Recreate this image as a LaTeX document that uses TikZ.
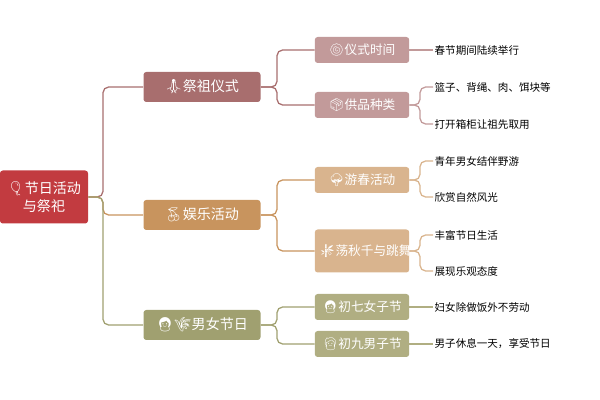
\documentclass[tikz,border=0pt]{standalone}
\usepackage{fontspec}
\setmainfont{Noto Sans CJK SC}
\newfontfamily\emo{Noto Emoji}
\usetikzlibrary{positioning}
\definecolor{rootred}{HTML}{C23B40}
\definecolor{redA}{HTML}{A86E6E}
\definecolor{redB}{HTML}{C29A9A}
\definecolor{brownA}{HTML}{C8945E}
\definecolor{brownB}{HTML}{D9B48E}
\definecolor{greenA}{HTML}{A0A070}
\definecolor{greenB}{HTML}{B0AE82}
\tikzset{
  rootbox/.style={fill=rootred, text=white, rounded corners=2pt, minimum width=88*0.025cm, minimum height=53*0.025cm, align=center, font=\fontsize{10}{13}\selectfont},
  mainbox/.style={fill=#1, text=white, rounded corners=2pt, minimum width=117*0.025cm, minimum height=30*0.025cm, font=\fontsize{10}{12}\selectfont},
  subbox/.style={fill=#1, text=white, rounded corners=2pt, text width=85*0.025cm, align=center, minimum height=26*0.025cm, font=\fontsize{9}{12}\selectfont},
  leaf/.style={anchor=west, font=\fontsize{7.5}{9}\selectfont, inner sep=1pt},
  link/.style={draw=#1, line width=0.9pt, rounded corners=4pt}
}
\begin{document}
\begin{tikzpicture}[x=0.025cm,y=-0.025cm]
\useasboundingbox (0,0) rectangle (600,400);

\node[rootbox] (root) at (44,197) {{\emo 🎈}节日活动\\与祭祀};

\node[mainbox=redA] (rite) at (202,87) {{\emo 🙏}祭祖仪式};
\node[mainbox=brownA] (fun) at (202,215) {{\emo 🍒}娱乐活动};
\node[mainbox=greenA] (day) at (202,325) {{\emo 👩🌾}男女节日};

\node[subbox=redB] (time) at (362,50) {{\emo 🍥}仪式时间};
\node[subbox=redB] (gift) at (362,105) {{\emo 📦}供品种类};
\node[subbox=brownB] (tour) at (362,180) {{\emo 🌳}游春活动};
\node[subbox=brownB, minimum height=43*0.025cm] (swing) at (362,251) {{\emo 🎋}荡秋千与跳舞};
\node[subbox=greenB] (girl) at (362,307) {{\emo 👩}初七女子节};
\node[subbox=greenB] (boy) at (362,344) {{\emo 👱}初九男子节};

\node[leaf] (t1) at (433,50) {春节期间陆续举行};
\node[leaf] (g1) at (433,87) {篮子、背绳、肉、饵块等};
\node[leaf] (g2) at (433,124) {打开箱柜让祖先取用};
\node[leaf] (u1) at (433,161) {青年男女结伴野游};
\node[leaf] (u2) at (433,197) {欣赏自然风光};
\node[leaf] (s1) at (433,235) {丰富节日生活};
\node[leaf] (s2) at (433,271) {展现乐观态度};
\node[leaf] (w1) at (433,307) {妇女除做饭外不劳动};
\node[leaf] (b1) at (433,344) {男子休息一天，享受节日};

% root to main branches
\draw[link=redA] (root.east) -- (103,197) |- (rite.west);
\draw[link=brownA] (root.east) -- (103,197) |- (fun.west);
\draw[link=greenA] (root.east) -- (103,197) |- (day.west);

% main to sub branches
\draw[link=redA] (rite.east) -- (277,87) |- (time.west);
\draw[link=redA] (rite.east) -- (277,87) |- (gift.west);
\draw[link=brownA] (fun.east) -- (277,215) |- (tour.west);
\draw[link=brownA] (fun.east) -- (277,215) |- (swing.west);
\draw[link=greenA] (day.east) -- (277,325) |- (girl.west);
\draw[link=greenA] (day.east) -- (277,325) |- (boy.west);

% sub to leaves
\draw[link=redB] (time.east) -- (t1.west);
\draw[link=redB] (gift.east) -- (420,105) |- (g1.west);
\draw[link=redB] (gift.east) -- (420,105) |- (g2.west);
\draw[link=brownB] (tour.east) -- (420,180) |- (u1.west);
\draw[link=brownB] (tour.east) -- (420,180) |- (u2.west);
\draw[link=brownB] (swing.east) -- (420,251) |- (s1.west);
\draw[link=brownB] (swing.east) -- (420,251) |- (s2.west);
\draw[link=greenB] (girl.east) -- (w1.west);
\draw[link=greenB] (boy.east) -- (b1.west);
\end{tikzpicture}
\end{document}
